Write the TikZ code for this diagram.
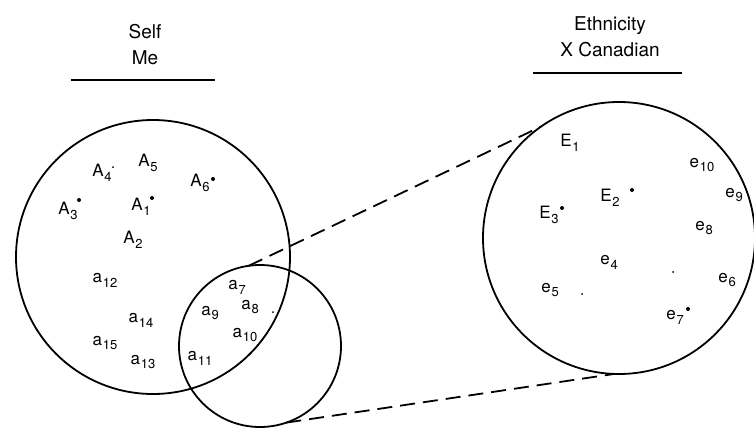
\documentclass[tikz,border=0pt]{standalone}
\usepackage{fontspec}
\setmainfont{TeX Gyre Heros}
\usetikzlibrary{positioning}
\newcommand\sub[2]{#1\kern.4pt\raisebox{-.55ex}{\fontsize{6.5}{7}\selectfont#2}}

\begin{document}
\begin{tikzpicture}[x=0.5pt,y=-0.5pt,
  ring/.style={circle,draw,line width=.9pt,inner sep=0pt,outer sep=0pt},
  lbl/.style={font=\fontsize{8.5}{9}\selectfont,inner sep=0pt},
  ttl/.style={font=\fontsize{9.5}{13}\selectfont,align=center,inner sep=0pt},
  link/.style={line width=.9pt,dash pattern=on 7.5pt off 4pt}]
  \useasboundingbox (0,0) rectangle (754,428);

  % titles
  \node[ttl] (selfttl) at (145,45) {Self\\Me};
  \draw[line width=.9pt] (71,80) -- (215,80);
  \node[ttl] (ethttl) at (610,37) {Ethnicity\\X Canadian};
  \draw[line width=.9pt] (533,73) -- (682,73);

  % circles
  \node[ring,minimum size=137pt] (self) at (153,257) {};
  \node[ring,minimum size=81pt] (overlap) at (260,346) {};
  \node[ring,minimum size=136pt] (eth) at (619,238) {};

  % projection lines
  \draw[link] (overlap.98) -- (eth.125);
  \draw[link] (overlap.-71) -- (eth.-92);

  % self elements
  \foreach \n/\x/\y/\l/\s in {A4/102/173/A/4, A5/148/163/A/5, A6/200/183/A/6,
      A3/68/211/A/3, A1/141/207/A/1, A2/133/240/A/2,
      a12/105/280/a/12, a14/141/320/a/14, a15/105/343/a/15, a13/143/362/a/13,
      a7/237/287/a/7, a8/250/307/a/8, a9/210/313/a/9, a10/245/335/a/10,
      a11/200/358/a/11}
    \node[lbl] (\n) at (\x,\y) {\sub{\l}{\s}};

  % ethnicity elements
  \foreach \n/\x/\y/\l/\s in {E1/570/143/E/1, e10/702/165/e/10, E2/610/198/E/2,
      e9/734/195/e/9, E3/549/215/E/3, e8/704/228/e/8, e4/609/262/e/4,
      e6/727/280/e/6, e5/550/290/e/5, e7/675/317/e/7}
    \node[lbl] (\n) at (\x,\y) {\sub{\l}{\s}};

  % marks
  \foreach \x/\y in {213/179, 79/200, 152/198, 632/190, 562/208, 688/309}
    \fill (\x,\y) circle (1pt);
  \foreach \x/\y in {113/167, 273/312, 582/294, 673/272}
    \fill (\x,\y) circle (.5pt);
\end{tikzpicture}
\end{document}
